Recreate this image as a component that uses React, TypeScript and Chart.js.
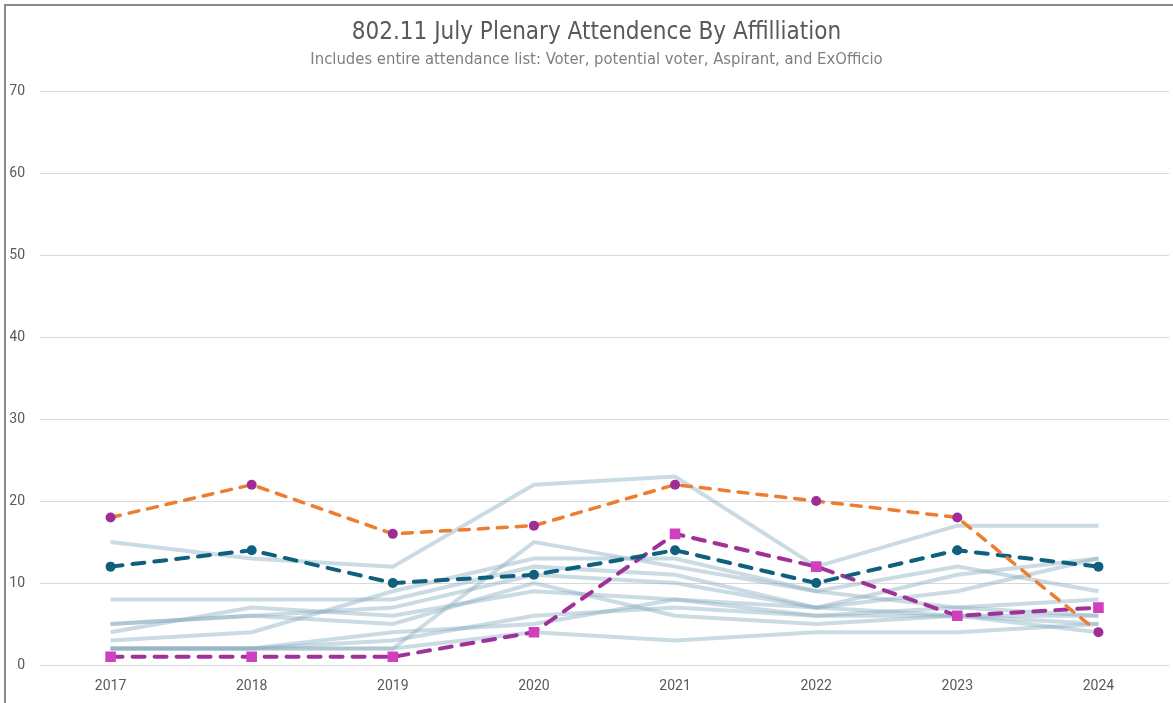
import React, { useEffect, useRef } from "react";
import { Chart, registerables } from "chart.js";

Chart.register(...registerables);

const years = ["2017", "2018", "2019", "2020", "2021", "2022", "2023", "2024"];

// highlighted affiliations
const orangeSeries = [18, 22, 16, 17, 22, 20, 18, 4];
const tealSeries = [12, 14, 10, 11, 14, 10, 14, 12];
const purpleSeries = [1, 1, 1, 4, 16, 12, 6, 7];

// other affiliations (grey)
const greyA = [15, 13, 12, 22, 23, 12, 17, 17];
const greyB = [2, 2, 2, 15, 12, 9, 7, 6];
const greyC = [3, 4, 9, 13, 13, 9, 12, 9];
const greyD = [8, 8, 8, 12, 11, 7, 11, 13];
const greyE = [5, 6, 7, 11, 10, 7, 9, 13];
const greyF = [4, 7, 6, 9, 8, 6, 7, 8];
const greyG = [2, 2, 3, 6, 7, 6, 6, 6];
const greyH = [2, 2, 4, 5, 8, 7, 6, 5];
const greyI = [5, 6, 5, 10, 6, 5, 6, 4];
const greyJ = [2, 2, 2, 4, 3, 4, 4, 5];

const greyList = [greyA, greyB, greyC, greyD, greyE, greyF, greyG, greyH, greyI, greyJ];

const yTicks = [0, 10, 20, 30, 40, 50, 60, 70];

const TITLE = "802.11 July Plenary Attendence By Affilliation";
const SUBTITLE = "Includes entire attendance list: Voter, potential voter, Aspirant, and ExOfficio";

const narrow = "'Liberation Sans Narrow', 'DejaVu Sans Condensed', Roboto, sans-serif";

const CANVAS_W = 1183;
const CANVAS_H = 703;

export default function App() {
  const ref = useRef<HTMLCanvasElement | null>(null);

  useEffect(() => {
    if (!ref.current) return;
    const greyDatasets = greyList.map((d, i) => ({
      label: "Other " + (i + 1),
      data: d,
      borderColor: "rgba(140,176,194,0.45)",
      borderWidth: 4,
      pointRadius: 0,
      tension: 0,
      order: 10 + i,
    }));
    const chart = new Chart(ref.current, {
      type: "line",
      data: {
        labels: years,
        datasets: [
          {
            label: "Orange",
            data: orangeSeries,
            borderColor: "#ED7D31",
            borderWidth: 3.5,
            borderDash: [10, 9],
            borderCapStyle: "round",
            pointRadius: 5,
            pointBackgroundColor: "#9E2D98",
            pointBorderColor: "#9E2D98",
            pointBorderWidth: 0,
            order: 1,
          },
          {
            label: "Teal",
            data: tealSeries,
            borderColor: "#0F5F7E",
            borderWidth: 4,
            borderDash: [12, 10],
            borderCapStyle: "round",
            pointRadius: 5,
            pointBackgroundColor: "#0F5F7E",
            pointBorderColor: "#0F5F7E",
            pointBorderWidth: 0,
            order: 2,
          },
          {
            label: "Purple",
            data: purpleSeries,
            borderColor: "#A0309A",
            borderWidth: 4,
            borderDash: [12, 10],
            borderCapStyle: "round",
            pointStyle: "rect",
            pointRadius: 7.5,
            pointBackgroundColor: "#D040BE",
            pointBorderColor: "#D040BE",
            pointBorderWidth: 0,
            order: 3,
          },
          ...greyDatasets,
        ] as any,
      },
      options: {
        animation: false,
        responsive: false,
        layout: { padding: { top: 5, left: 10, right: 0, bottom: 0 } },
        plugins: {
          legend: { display: false },
          tooltip: { enabled: false },
          title: {
            display: true,
            text: TITLE,
            color: "#595959",
            font: { family: narrow, size: 24, weight: "normal" },
            padding: { top: 13, bottom: 0 },
          },
          subtitle: {
            display: true,
            text: SUBTITLE,
            color: "#7f7f7f",
            font: { family: narrow, size: 16.5, weight: "normal" },
            padding: { top: 3, bottom: 21.6 },
          },
        },
        scales: {
          x: {
            type: "category",
            offset: true,
            grid: { display: false, drawTicks: false },
            border: { display: false },
            ticks: {
              color: "#595959",
              padding: 13,
              font: { family: "Roboto, sans-serif", size: 14 },
            },
            afterFit: (s: any) => {
              s.height = 38;
            },
          },
          y: {
            min: 0,
            max: 70,
            afterBuildTicks: (s: any) => {
              s.ticks = yTicks.map((v) => ({ value: v }));
            },
            grid: { color: "#d9d9d9", lineWidth: 1, drawTicks: false },
            border: { display: false },
            ticks: {
              color: "#595959",
              padding: 15,
              font: { family: "Roboto, sans-serif", size: 14 },
            },
            afterFit: (s: any) => {
              s.width = 30;
            },
          },
          yRightSpacer: {
            type: "linear",
            position: "right",
            display: true,
            grid: { display: false, drawTicks: false },
            border: { display: false },
            ticks: { display: false },
            afterFit: (s: any) => {
              s.width = 14;
            },
          },
        },
      } as any,
    });
    return () => chart.destroy();
  }, []);

  return (
    <div style={{ position: "fixed", left: 0, top: 0, width: 1173, height: 703, background: "#fff", overflow: "hidden" }}>
      <div
        style={{
          position: "absolute",
          left: 4,
          top: 4,
          right: -10,
          bottom: -10,
          borderLeft: "2px solid #8a8a8a",
          borderTop: "2px solid #8a8a8a",
        }}
      />
      <canvas
        ref={ref}
        width={CANVAS_W}
        height={CANVAS_H}
        style={{ position: "absolute", left: 0, top: 0, width: CANVAS_W, height: CANVAS_H }}
      />
    </div>
  );
}
